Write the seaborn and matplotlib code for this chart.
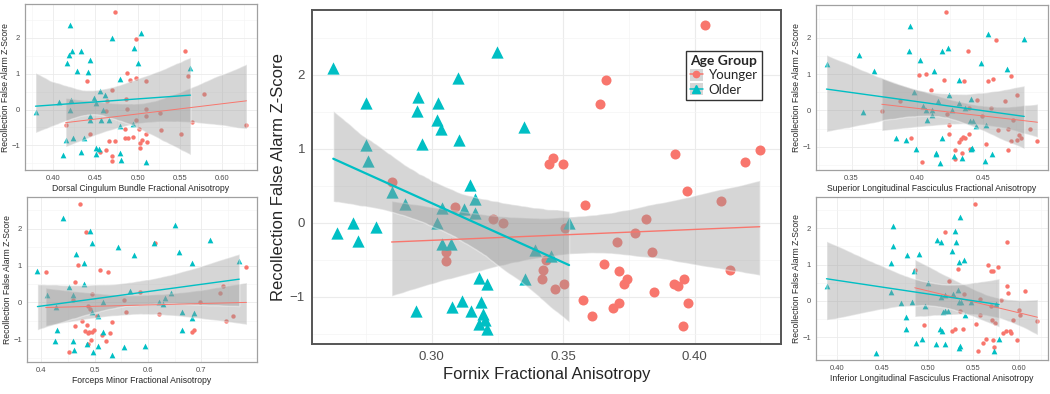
import matplotlib
matplotlib.use("Agg")
import matplotlib.pyplot as plt
from matplotlib.lines import Line2D
from matplotlib.patches import Patch
from matplotlib.ticker import MultipleLocator, FixedLocator, FormatStrFormatter
import numpy as np
import seaborn as sns

RED = "#F8766D"
TEAL = "#00BFC4"

# ---- Fornix (centre panel) ----
fx_old_x = [0.2625, 0.2641, 0.2701, 0.2718, 0.2749, 0.2749, 0.2756, 0.2787, 0.2847, 0.2896,
            0.2939, 0.2949, 0.2945, 0.2962, 0.3019, 0.3025, 0.3019, 0.3036, 0.3038, 0.3038,
            0.3074, 0.3076, 0.3099, 0.3104, 0.3115, 0.3121, 0.3146, 0.3149, 0.3165, 0.3165,
            0.3178, 0.3178, 0.3187, 0.3195, 0.3210, 0.3204, 0.3210, 0.3248, 0.3350, 0.3356,
            0.3394, 0.3452, 0.3522]
fx_old_y = [2.095, -0.145, 0.000, -0.245, 1.620, 1.054, 0.837, -0.063, 0.410, 0.253,
            -1.195, 1.700, 1.507, 1.063, 0.000, 1.620, 1.385, 1.270, 0.195, -0.294,
            -0.294, -1.140, 1.950, 1.120, -1.063, 0.180, 0.510, -1.195, 0.317, 0.127,
            -0.747, -1.367, -1.072, -1.231, -0.824, -1.321, -1.434, 2.312, 1.294, -0.756,
            -0.371, -0.452, 0.000]
fx_young_x = [0.2847, 0.3089, 0.3055, 0.3055, 0.3232, 0.3271, 0.4039, 0.3662, 0.3640, 0.3445,
              0.3461, 0.3500, 0.3925, 0.4247, 0.4190, 0.3969, 0.4098, 0.3583, 0.3814, 0.3505,
              0.3772, 0.3704, 0.3436, 0.3839, 0.3655, 0.3424, 0.3712, 0.4136, 0.3420, 0.3744,
              0.3732, 0.3961, 0.3502, 0.3468, 0.3922, 0.3935, 0.3844, 0.3575, 0.3690, 0.3712,
              0.3973, 0.3608, 0.3954]
fx_young_y = [0.557, 0.217, -0.394, -0.520, 0.050, -0.009, 2.670, 1.928, 1.606, 0.792,
              0.873, 0.792, 0.932, 0.986, 0.819, 0.430, 0.294, 0.240, 0.050, -0.077,
              -0.145, -0.267, -0.507, -0.398, -0.552, -0.643, -0.656, -0.643, -0.756, -0.756,
              -0.833, -0.756, -0.833, -0.891, -0.833, -0.855, -0.937, -1.041, -1.149, -1.086,
              -1.086, -1.267, -1.398]

# ---- Dorsal cingulum bundle (top left) ----
dcb_old_x = [0.3795, 0.4067, 0.4118, 0.4157, 0.4169, 0.4189, 0.4197, 0.4209, 0.4197, 0.4224,
             0.4236, 0.4283, 0.4335, 0.4335, 0.4362, 0.4413, 0.4441, 0.4441, 0.4441, 0.4480,
             0.4504, 0.4504, 0.4512, 0.4539, 0.4551, 0.4571, 0.4591, 0.4610, 0.4661, 0.4701,
             0.4795, 0.4795, 0.4795, 0.4799, 0.4945, 0.4953, 0.5004, 0.5035, 0.5102, 0.5622]
dcb_old_y = [-0.075, 0.214, -1.277, -0.839, 1.286, 1.519, 2.349, 0.252, 0.000, 1.631,
             -0.792, 1.072, 1.631, -1.184, -0.792, 1.053, 1.379, -0.280, -0.186, 0.308,
             0.186, -1.072, -1.240, -1.100, 0.513, -0.298, 0.000, 0.401, -0.298, 1.985,
             0.857, -0.447, -1.212, -1.407, -0.391, 1.705, 1.305, 2.125, -1.473, 1.146]
dcb_young_x = [0.4728, 0.4984, 0.5555, 0.4402, 0.4874, 0.4913, 0.4976, 0.5102, 0.5594, 0.5780,
               0.4701, 0.4858, 0.4638, 0.5102, 0.4874, 0.4622, 0.5260, 0.5102, 0.4984, 0.4150,
               0.5646, 0.6283, 0.5280, 0.4846, 0.5016, 0.4441, 0.5094, 0.5516, 0.4728, 0.4661,
               0.4846, 0.4886, 0.4945, 0.5055, 0.5110, 0.5024, 0.5024, 0.4630, 0.4559, 0.4693,
               0.4693]
dcb_young_y = [2.721, 1.957, 1.631, 0.792, 1.007, 0.811, 0.867, 0.792, 0.932, 0.419,
               0.541, 0.280, 0.233, 0.028, 0.028, -0.028, -0.093, -0.168, -0.298, -0.419,
               -0.345, -0.419, -0.559, -0.531, -0.531, -0.680, -0.680, -0.680, -0.885, -0.885,
               -0.792, -0.792, -0.774, -0.839, -0.913, -0.932, -1.072, -1.118, -1.184, -1.305,
               -1.426]

# ---- Forceps minor (bottom left) ----
fm_old_x = [0.3926, 0.4099, 0.4265, 0.4296, 0.4253, 0.4407, 0.4512, 0.4593, 0.4593, 0.4617,
            0.4654, 0.4802, 0.4802, 0.4852, 0.4914, 0.4957, 0.4957, 0.4975, 0.5068, 0.5068,
            0.5160, 0.5160, 0.5327, 0.5438, 0.5549, 0.5654, 0.5735, 0.5951, 0.6117, 0.6210,
            0.6284, 0.6321, 0.6426, 0.6506, 0.6580, 0.6642, 0.6630, 0.6827, 0.6858, 0.6827,
            0.7167, 0.7710]
fm_old_y = [0.858, 0.199, -0.117, -0.741, -1.039, 2.303, 0.425, 0.199, -1.039, -1.283,
            1.310, 1.066, 0.497, -1.129, 1.942, 1.626, -0.253, -1.355, -0.361, -1.174,
            0.000, -0.813, -1.418, 1.509, -1.220, 0.316, 1.283, -1.174, 1.626, 0.000,
            -0.045, 0.108, 0.244, 2.096, 1.382, -0.271, -0.750, 1.066, -0.289, -0.434,
            1.689, 1.129]
fm_young_x = [0.4080, 0.4716, 0.4840, 0.4685, 0.4636, 0.4593, 0.4636, 0.4759, 0.4852, 0.4821,
              0.4870, 0.4895, 0.4944, 0.4994, 0.4957, 0.4870, 0.4914, 0.5037, 0.4932, 0.4870,
              0.4512, 0.5099, 0.5241, 0.5130, 0.5210, 0.5284, 0.5333, 0.5549, 0.5580, 0.5840,
              0.6136, 0.6210, 0.6815, 0.6858, 0.6969, 0.7352, 0.7401, 0.7457, 0.7586, 0.7846]
fm_young_y = [0.831, 2.665, 1.915, 1.012, 0.560, 0.063, -0.632, -0.497, -0.614, -0.768,
              -0.831, -0.813, -0.813, -0.741, 0.226, -0.090, -0.181, -0.379, -1.012, -1.129,
              -1.355, 0.885, 0.813, -0.885, -1.057, -0.840, -0.524, 0.072, -0.253, 0.289,
              1.626, -0.316, -0.795, -0.741, 0.000, 0.253, 0.434, -0.497, -0.379, 0.949]

# ---- Superior longitudinal fasciculus (top right) ----
slf_old_x = [0.3309, 0.3556, 0.3584, 0.3671, 0.3839, 0.3916, 0.3946, 0.3939, 0.3977, 0.3992,
             0.4023, 0.4043, 0.4066, 0.4074, 0.4112, 0.4112, 0.4130, 0.4143, 0.4143, 0.4156,
             0.4189, 0.4189, 0.4171, 0.4232, 0.4240, 0.4265, 0.4278, 0.4316, 0.4321, 0.4342,
             0.4367, 0.4401, 0.4406, 0.4411, 0.4418, 0.4426, 0.4444, 0.4487, 0.4515, 0.4520,
             0.4538, 0.4571, 0.4681, 0.4814]
slf_old_y = [1.272, 1.510, -0.055, 1.070, -0.759, -0.823, 2.324, 1.638, 0.503, -1.061,
             1.372, 0.110, 0.000, -0.256, -0.119, 0.000, 1.070, -1.153, -1.199, 0.247,
             1.638, -0.741, -1.427, 1.702, 0.412, 0.000, -1.235, 0.842, 0.201, -1.308,
             0.064, -0.284, 0.311, -1.061, -1.016, -0.302, -0.439, 1.299, -1.382, -0.393,
             2.104, -1.189, 1.134, 1.958]
slf_young_x = [0.3730, 0.3865, 0.3954, 0.4010, 0.4036, 0.4069, 0.4107, 0.4207, 0.4219, 0.4227,
               0.4240, 0.4245, 0.4291, 0.4291, 0.4316, 0.4334, 0.4349, 0.4367, 0.4342, 0.4355,
               0.4388, 0.4393, 0.4393, 0.4398, 0.4457, 0.4495, 0.4526, 0.4538, 0.4564, 0.4577,
               0.4602, 0.4615, 0.4668, 0.4691, 0.4694, 0.4712, 0.4717, 0.4730, 0.4758, 0.4763,
               0.4776, 0.4793, 0.4860, 0.4915]
slf_young_y = [-0.009, 0.247, -0.741, 0.979, -1.400, 1.006, 0.549, 0.823, 2.690, -0.101,
               -0.393, -0.640, -1.080, -1.336, -0.851, -0.787, -0.732, -0.759, -1.153, 0.796,
               1.619, 0.064, -0.640, -1.052, 0.293, -0.146, -0.915, 0.814, 0.064, 0.869,
               1.940, -0.531, 0.247, -1.080, -0.512, -0.833, 0.933, -0.256, -0.823, 0.430,
               -0.668, -0.741, -0.512, -0.833]

# ---- Inferior longitudinal fasciculus (bottom right) ----
ilf_old_x = [0.3883, 0.4598, 0.4598, 0.4617, 0.4617, 0.4433, 0.4708, 0.4763, 0.4763, 0.4774,
             0.4826, 0.4844, 0.4873, 0.4903, 0.4939, 0.4972, 0.5002, 0.5094, 0.5105, 0.5141,
             0.5130, 0.5160, 0.5149, 0.5167, 0.5193, 0.5193, 0.5185, 0.5222, 0.5266, 0.5277,
             0.5295, 0.5314, 0.5332, 0.5339, 0.5343, 0.5350, 0.5339, 0.5350, 0.5398, 0.5413,
             0.5369, 0.5479, 0.5728, 0.5747, 0.5783]
ilf_old_y = [0.409, 0.236, 1.055, 2.073, 1.500, -1.427, -0.064, -0.455, -0.773, 1.255,
             -0.018, 0.827, -1.155, 1.300, -1.064, -0.155, 0.482, -1.200, 1.682, 1.618,
             -0.764, -0.836, 0.118, -0.309, 0.164, -0.291, -1.200, -0.291, 1.364, 0.182,
             1.936, 1.618, 0.300, -0.018, 1.073, 2.300, -1.309, -1.245, 1.118, -0.382,
             -0.018, -0.018, -1.382, -0.091, -1.064]
ilf_young_x = [0.5193, 0.4855, 0.5229, 0.4958, 0.5270, 0.5303, 0.5332, 0.5350, 0.5398, 0.5387,
               0.5516, 0.5534, 0.5552, 0.5571, 0.5571, 0.5607, 0.5644, 0.5662, 0.5692, 0.5717,
               0.5692, 0.5706, 0.5717, 0.5728, 0.5736, 0.5772, 0.5809, 0.5827, 0.5864, 0.5872,
               0.5875, 0.5886, 0.5901, 0.5919, 0.5938, 0.5982, 0.6004, 0.6011, 0.6066, 0.6206]
ilf_young_y = [1.909, 0.845, 0.545, -0.655, -0.818, -0.773, 0.873, -0.291, 0.182, -0.773,
               2.664, -0.636, -1.382, 0.055, -0.382, -1.155, -1.045, 0.982, 0.818, 0.818,
               -0.155, -0.518, -1.082, -1.264, -0.609, 0.936, 0.027, -0.882, -0.818, 1.618,
               0.418, 0.209, -0.836, -0.882, -0.518, -1.082, -0.245, -0.400, 0.273, -0.564]

YLABEL = "Recollection False Alarm Z-Score"
FONT = "Liberation Sans"


def draw_panel(ax, yx, yy, ox, oy, xlabel, step, fmt, big=False):
    s_circ, s_tri = (52, 78) if big else (10, 17)
    lw_red, lw_teal = (1.0, 1.6) if big else (0.7, 1.0)
    # points first, ribbons on top (ggplot layer order)
    sns.scatterplot(x=yx, y=yy, color=RED, marker="o", s=s_circ, linewidth=0, ax=ax, zorder=1)
    sns.scatterplot(x=ox, y=oy, color=TEAL, marker="^", s=s_tri, linewidth=0, ax=ax, zorder=1)
    for xs, ys, col, lw in [(yx, yy, RED, lw_red), (ox, oy, TEAL, lw_teal)]:
        n = len(ax.collections)
        sns.regplot(x=xs, y=ys, scatter=False, color=col, ci=95, seed=0, n_boot=2000,
                    line_kws={"lw": lw, "zorder": 3}, ax=ax)
        for c in ax.collections[n:]:
            c.set_facecolor("#999999")
            c.set_alpha(0.4)
            c.set_zorder(2)

    # ggplot-style 5% expansion of the data range
    allx = np.concatenate([yx, ox])
    pad = 0.05 * (allx.max() - allx.min())
    lo, hi = allx.min() - pad, allx.max() + pad
    ax.set_xlim(lo, hi)
    edge = 0.06 * step
    majors = np.arange(np.ceil(lo / step) * step, hi, step)
    majors = majors[(majors > lo + edge) & (majors < hi - edge)]
    minors = np.arange(np.floor(lo / step) * step - step / 2, hi + step, step)
    ax.xaxis.set_major_locator(FixedLocator(majors))
    ax.xaxis.set_minor_locator(FixedLocator(minors))
    ax.xaxis.set_major_formatter(FormatStrFormatter(fmt))
    ax.yaxis.set_major_locator(MultipleLocator(1))
    ax.yaxis.set_minor_locator(MultipleLocator(0.5))
    ax.margins(y=0.05)

    tick_fs, lab_fs = (9.5, 12) if big else (5.5, 6.2)
    ax.grid(True, which="major", color="#EBEBEB", lw=0.8 if big else 0.6)
    ax.grid(True, which="minor", color="#F4F4F4", lw=0.5 if big else 0.4)
    ax.set_axisbelow(True)
    ax.tick_params(which="major", length=3 if big else 2, width=0.6, color="#333333",
                   labelsize=tick_fs, labelcolor="#4D4D4D", pad=2 if big else 1.5)
    ax.tick_params(which="minor", length=0)
    for sp in ax.spines.values():
        sp.set_color("#555555" if big else "#A0A0A0")
        sp.set_linewidth(1.4 if big else 0.9)
    ax.set_xlabel(xlabel, fontsize=lab_fs, labelpad=3 if big else 1.5)
    ax.set_ylabel(YLABEL, fontsize=lab_fs, labelpad=3 if big else 1)


sns.set_style("white")
plt.rcParams["font.family"] = [FONT, "DejaVu Sans"]

fig = plt.figure(figsize=(10.5, 3.94), dpi=100)

ax_dcb = fig.add_axes([0.0238, 0.5685, 0.221, 0.421])
ax_fm = fig.add_axes([0.0257, 0.0812, 0.219, 0.419])
ax_fx = fig.add_axes([0.2971, 0.1269, 0.4467, 0.8477])
ax_slf = fig.add_axes([0.7771, 0.5685, 0.221, 0.419])
ax_ilf = fig.add_axes([0.7771, 0.0863, 0.221, 0.414])

draw_panel(ax_dcb, dcb_young_x, dcb_young_y, dcb_old_x, dcb_old_y,
           "Dorsal Cingulum Bundle Fractional Anisotropy", 0.05, "%.2f")
draw_panel(ax_fm, fm_young_x, fm_young_y, fm_old_x, fm_old_y,
           "Forceps Minor Fractional Anisotropy", 0.1, "%.1f")
draw_panel(ax_fx, fx_young_x, fx_young_y, fx_old_x, fx_old_y,
           "Fornix Fractional Anisotropy", 0.05, "%.2f", big=True)
draw_panel(ax_slf, slf_young_x, slf_young_y, slf_old_x, slf_old_y,
           "Superior Longitudinal Fasciculus Fractional Anisotropy", 0.05, "%.2f")
draw_panel(ax_ilf, ilf_young_x, ilf_young_y, ilf_old_x, ilf_old_y,
           "Inferior Longitudinal Fasciculus Fractional Anisotropy", 0.05, "%.2f")

key_bg = Patch(facecolor="#D6D6D6", edgecolor="none")
handles = [(key_bg, Line2D([], [], color=RED, marker="o", ms=4.5, lw=1.1)),
           (key_bg, Line2D([], [], color=TEAL, marker="^", ms=5.5, lw=1.1))]
leg = ax_fx.legend(handles, ["Younger", "Older"], title="Age Group",
                   loc="upper left", bbox_to_anchor=(0.797, 0.877),
                   prop={"family": ["Lato", "DejaVu Sans"], "size": 9.5},
                   title_fontproperties={"family": ["Lato", "DejaVu Sans"], "size": 10,
                                         "weight": "bold"},
                   frameon=True, fancybox=False, framealpha=1, edgecolor="#333333",
                   handlelength=1.0, handleheight=1.0, handletextpad=0.45,
                   borderpad=0.3, borderaxespad=0, labelspacing=0.15, alignment="left")
leg.get_frame().set_linewidth(1.0)

fig.savefig("out.png", dpi=100)
